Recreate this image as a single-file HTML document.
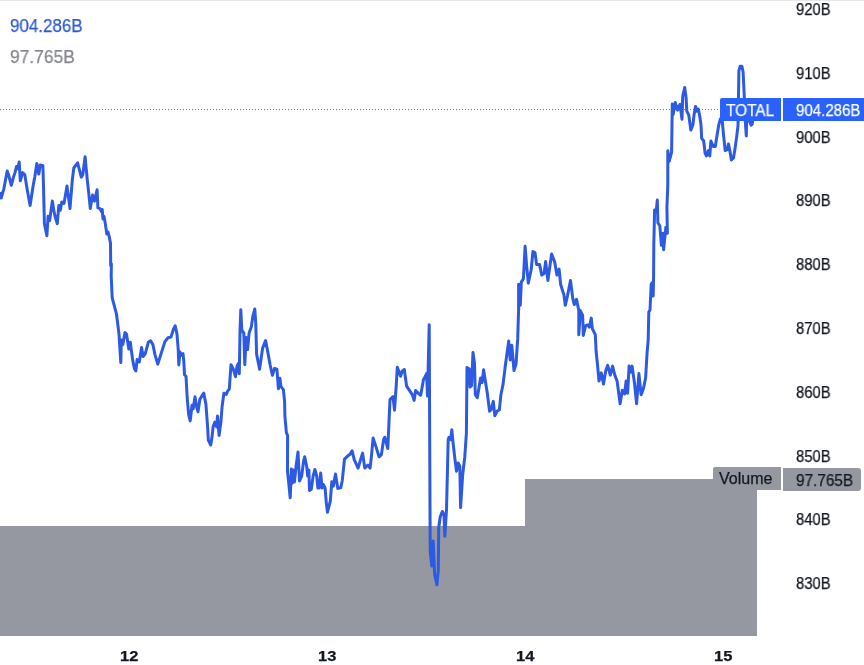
<!DOCTYPE html>
<html><head><meta charset="utf-8">
<style>
html,body{margin:0;padding:0;background:#fff;width:864px;height:665px;overflow:hidden;}
body{position:relative;font-family:"Liberation Sans",sans-serif;}
.t{position:absolute;white-space:nowrap;line-height:1;transform-origin:0 0;will-change:transform;-webkit-text-stroke:0.25px currentColor;}
.ax{font-size:16px;color:#131722;left:796px;transform:scaleX(0.925);}
.tm{font-size:15px;font-weight:bold;color:#131722;top:648px;transform:scaleX(1.1);}
</style></head><body>
<div style="position:absolute;left:0;top:0;width:864px;height:1px;background:#e8e8e8"></div>
<svg width="864" height="665" style="position:absolute;left:0;top:0">
<rect x="0" y="526" width="525" height="110" fill="#9598a1"/>
<rect x="525" y="479" width="232" height="157" fill="#9598a1"/>
<line x1="0" y1="109.5" x2="720" y2="109.5" stroke="#787b86" stroke-width="1" stroke-dasharray="1 2"/>
<polyline id="ln" fill="none" stroke="#2d5ae2" stroke-width="3" stroke-linejoin="round" points="0,192.1 1.2,198.1 3.8,189.1 7.2,171 9,176.3 11.3,185.3 13.5,177.1 15,172.6 16.5,166.5 17.7,168.8 19.2,162 20.3,180.8 22.6,172.6 24.8,174.8 27.1,189.1 30.1,205.6 33.1,186.1 34.9,176.3 36.8,163.5 38.8,174.1 40.3,165 42.9,165.8 43.6,189.8 44.4,223.7 46.9,235.7 48.1,216.2 49.6,220.7 52.3,201.1 53.8,210.2 55,216.2 57.3,223.7 58.8,205.6 60.3,210.2 61.8,201.9 64,203.4 67,186.1 70,208.6 72.3,180.1 73.8,168 77.6,162.8 81.3,177.1 82.8,174.8 85.1,156.8 87.3,180.1 88.8,193.6 90.3,208.6 92.6,195.1 94.4,201.1 97.1,189.8 97.9,207.9 100,208.6 101.5,211.6 102.2,209.5 103,219 104,216.5 105.3,223.6 106.8,234 108,232 109,235.6 110.5,243.2 110.7,265.7 111.4,264 111.2,276 112.2,297.9 116.5,314.2 117.5,322 119,334.1 120.8,362.6 121.3,340.1 122.8,344.6 125,332.6 126.5,334.1 128.8,349.1 130.3,342.3 132.6,359.6 134.4,368.6 135.9,370.9 137.1,359.6 139.3,361.9 141.6,347.6 143.1,356.6 145.3,353.6 148.3,342.3 150.6,340.8 152.9,344.6 155.1,355.1 157.8,364.1 161.1,353.6 164.9,341.6 168,337.8 171,337.1 173.3,329.5 175.2,325.8 177,334.1 178.2,349.1 178.8,364.9 180,352.1 181.5,355.1 183,353.6 183.8,361.1 184.5,374.7 186,376.2 187.2,398 188.7,414.9 190.2,420.9 192,405.3 193.2,408.9 195,396.8 196.8,407.7 198,411.9 199.9,399.3 201.7,396.2 203.8,393.2 205.9,404.1 207.7,428.1 208.3,440.2 210.7,445 211.9,437.8 213.1,426.9 214.9,422.1 216.7,426.9 217.5,416.1 219.1,435.4 220.9,422.1 222.1,406.5 223.9,393.2 226.3,394.4 227.5,391.4 229.3,389 231,364.7 233.3,369.2 235.5,376.7 237,366.2 238.5,363.2 239.3,373.7 240,331.6 240.8,309.8 241.8,330.1 243.8,333.1 244.8,364.7 246.1,337.6 247.6,349.6 249.1,333.1 251.3,327.1 252.8,316.5 254.8,309 255.8,324.1 256.6,354.1 259.6,369.2 262.6,348.1 265.6,340.6 267.9,352.6 270.1,364.7 272.4,375.2 274.6,368.4 276.9,369.2 278.4,388.7 279.9,378.2 281,386.6 283.4,389.6 284.6,401.7 284.9,416.1 286.4,432.9 287.6,435.4 287.5,471.3 289,485.7 290.2,497.8 291.4,468.9 292,483.3 293.2,470.1 294.4,482.1 296.2,465.3 298,452 299.5,480.9 301.7,476.1 303.5,461.7 304.7,456.8 306.7,466.5 307.7,476.1 308.9,470.1 309.5,490.5 311.3,489.3 313.1,476.1 314.9,469.5 316.7,476.1 317.9,488.1 319.1,488.1 320.7,473.1 322.1,488.1 323.3,484.5 325.1,488.1 326.3,502.6 327.5,512.2 330.3,501.2 331.8,481.7 333.3,486.2 335.5,474.1 337.8,488.4 340.8,487.7 342.3,480.2 344.5,459.1 347.6,456.1 349.8,454.6 352.1,450.8 354.3,459.8 358.1,468.1 360.3,460.6 362.6,453.1 364.8,468.1 367.9,465.1 370.1,468.1 371.6,454.6 373.1,438 376.1,447.1 379.1,456.8 381.4,454.6 383.6,439.5 384.8,437.2 387.8,448.5 390,399.6 393,396.6 394.5,410.2 396.1,387.6 397.3,367.3 400.6,376.3 402.1,371.1 404.3,369.5 406.6,386.1 409.6,390.6 412.6,395.1 414.1,400.4 415.6,390.6 418.6,393.6 420.7,395.2 423.4,379.9 426.6,373.6 427.5,396.1 429.2,324.8 430.2,551 431.8,566 433.2,541 434.6,574 436.9,584.8 438.3,570 438.7,528 440.2,517 442.3,511.5 444,514.8 444.8,536.3 446.5,509.8 448.2,439.7 449,437.3 450.7,439.7 451.8,429.8 453.1,443 454.8,458 456.5,471.2 458.1,462.9 459.8,466.2 460.6,507.6 462.7,474.5 464.7,457.9 466.4,433.1 467,367.6 469.3,369.1 470,387.1 471.5,385.6 473,352.6 474.5,363.1 475.3,394.7 477.3,397.7 479.1,387.1 480.6,378.1 482.1,382.6 483.6,369.8 485.1,379.6 487.3,393.2 489.6,411.2 491.1,409.7 493.3,401.4 494.8,415.7 497.1,411.2 499.4,409.7 500.9,394.7 503.1,384.1 505.5,364.2 508.7,341.1 510.2,360 511.8,345.3 514,370.5 516,364.2 517.7,338.9 518.6,309.5 518.6,284.2 520.3,305.3 521.3,282.1 523.4,278.9 525.1,246.3 526.6,265.3 528.3,283.2 531.2,269.5 532.9,251.6 535,252.6 536.6,264.6 539.6,264.6 541.8,275.1 544.1,273.6 545.6,261.6 547.9,280.4 551.6,254.1 554.6,261.6 556.9,275.1 559.1,269.1 560.6,284.2 562.9,291.7 563.8,294.1 565.3,305.3 567.5,295.6 570.5,280.5 572.8,298.6 574.3,304.6 576.5,299.3 578.8,310.6 578.8,334.7 580.3,310.6 582.6,315.1 583.3,335.4 585.6,325.6 587.8,324.9 589.3,327.1 591.3,318.1 592.3,328.6 595.3,334.7 596.1,351.2 597.5,364.6 599,381.1 601.3,372.9 603.5,384.1 605.8,370.6 607.7,365.3 610.3,375.1 612.6,366.1 614.8,375.1 617.1,381.1 620.1,403.7 622.3,390.2 624.6,393.9 626.1,381.1 627.6,393.2 629.1,366.1 630.6,372.1 632.1,366.1 634.4,382.6 636.6,403.7 638.9,373.6 641.1,394.7 643.4,388.6 645.6,378.1 647.1,352.6 648.2,340 648.8,312 650,310 651.2,284 653,282 653.2,296 653.6,276 653.8,245.3 654.6,209.9 656.1,212.2 657.3,200.1 657.9,222.7 659.8,225.7 661.4,245.3 662.9,233.3 663.6,249.8 665.9,227.2 667.4,233.3 666.9,207.7 667.8,185.1 667.8,150.7 669.3,161.2 671.6,152.2 672.3,104.1 673.1,114.6 675.3,102.6 677.6,110.1 680,104.4 682,119.3 682.7,96.3 684.7,87.5 686.1,97.6 686.8,111.2 688.8,115.2 690.8,130.1 692.9,124.7 694.2,113.9 695.6,106.4 696.9,111.2 698.3,109.1 699.6,115.2 701,124.7 701.7,138.3 703.7,141 705.1,153.2 706.4,155.9 708.5,150.5 709.8,155.9 710.9,141 713.2,146.4 715.3,146.4 717,135.7 718.6,125.7 720.3,119.1 722.3,121.6 723.6,135.7 725.2,150.5 727.3,149.7 728.5,143.9 729.8,150.5 731.4,160 733.5,158 735.1,148.1 736.8,135.7 738,125.7 738.9,70.8 740.1,66.3 741.9,66.3 743.1,72 743.7,84.1 744.3,97.3 745.4,122.8 746.3,136 746.6,121 748,117.2 751.1,125.1 752.3,123.9 752.9,117.2 753,109.3"/>
</svg>
<div class="t" style="left:10px;top:17px;font-size:18px;color:#2c58d4;transform:scaleX(0.943)">904.286B</div>
<div class="t" style="left:10px;top:48px;font-size:18px;color:#84868c;transform:scaleX(0.967)">97.765B</div>
<div class="t ax" style="top:2px">920B</div>
<div class="t ax" style="top:66px">910B</div>
<div class="t ax" style="top:130px">900B</div>
<div class="t ax" style="top:193px">890B</div>
<div class="t ax" style="top:257px">880B</div>
<div class="t ax" style="top:321px">870B</div>
<div class="t ax" style="top:385px">860B</div>
<div class="t ax" style="top:449px">850B</div>
<div class="t ax" style="top:512px">840B</div>
<div class="t ax" style="top:576px">830B</div>
<div style="position:absolute;left:720px;top:98px;width:61px;height:23px;background:#2962ff;border-radius:2px 0 0 2px"></div>
<div class="t" style="left:726px;top:103px;font-size:16px;color:#fff;transform:scaleX(0.96)">TOTAL</div>
<div style="position:absolute;left:783px;top:98px;width:81px;height:23px;background:#2962ff"></div>
<div class="t" style="left:796px;top:103px;font-size:16px;color:#fff;transform:scaleX(0.94)">904.286B</div>
<div style="position:absolute;left:713px;top:467px;width:68px;height:23px;background:#9598a1;border-radius:2px 0 0 2px"></div>
<div class="t" style="left:719px;top:471px;font-size:16px;color:#131722">Volume</div>
<div style="position:absolute;left:783px;top:468px;width:78px;height:23px;background:#9598a1;border-radius:0 3px 3px 0"></div>
<div class="t" style="left:796px;top:473px;font-size:16px;color:#131722;transform:scaleX(0.957)">97.765B</div>
<div class="t tm" style="left:120px">12</div>
<div class="t tm" style="left:318px">13</div>
<div class="t tm" style="left:516px">14</div>
<div class="t tm" style="left:714px">15</div>
</body></html>
